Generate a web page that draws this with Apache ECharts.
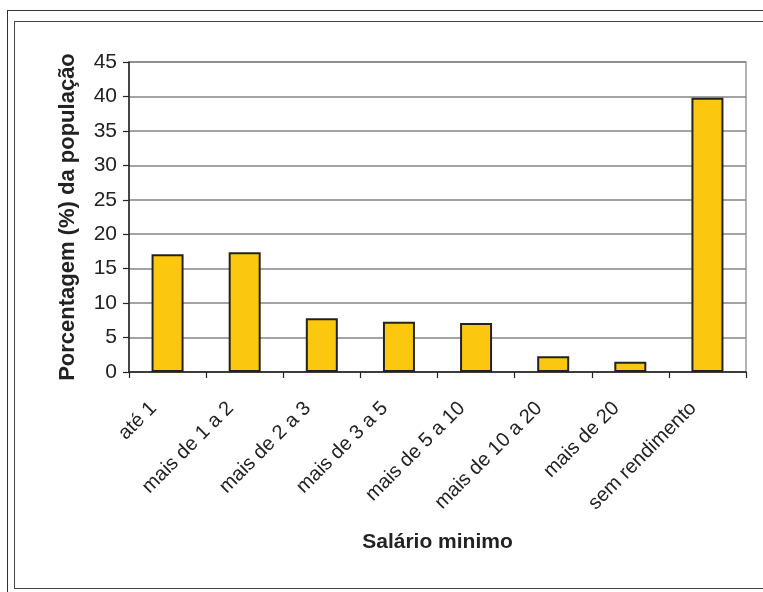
<!DOCTYPE html>
<html>
<head>
<meta charset="utf-8">
<script src="https://cdn.jsdelivr.net/npm/echarts@6/dist/echarts.min.js"></script>
<style>
html, body { margin: 0; padding: 0; background: #fff; }
#frame1 { position: absolute; left: 7px; top: 10px; width: 800px; height: 620px; border: 1.5px solid #333; box-sizing: border-box; }
#frame2 { position: absolute; left: 14px; top: 21px; width: 800px; height: 568px; border: 1.5px solid #444; box-sizing: border-box; }
#chart { position: absolute; left: 0; top: 0; width: 763px; height: 592px; }
</style>
</head>
<body>
<div id="frame1"></div>
<div id="frame2"></div>
<div id="chart"></div>
<script>
// faixas de salario minimo
const categories = ['até 1', 'mais de 1 a 2', 'mais de 2 a 3', 'mais de 3 a 5', 'mais de 5 a 10', 'mais de 10 a 20', 'mais de 20', 'sem rendimento']
const values = [17.1, 17.4, 7.8, 7.3, 7.1, 2.3, 1.5, 39.8]
const yTicks = { min: 0, max: 45, interval: 5 }

const myChart = echarts.init(document.getElementById('chart'))
myChart.setOption({
  animation: false,
  textStyle: { fontFamily: 'Liberation Sans, Arial, sans-serif' },
  grid: {
    left: 129,
    right: 17,
    top: 62,
    bottom: 220,
    show: true,
    borderColor: '#9a9a9a',
    borderWidth: 1.5
  },
  xAxis: {
    type: 'category',
    data: categories,
    name: 'Salário minimo',
    nameLocation: 'middle',
    nameGap: 160,
    nameTextStyle: { fontSize: 21, fontWeight: 'bold', color: '#222' },
    axisLine: { lineStyle: { color: '#222', width: 1.5 } },
    axisTick: { show: true, length: 6, lineStyle: { color: '#222', width: 1.2 } },
    axisLabel: { rotate: 45, fontSize: 20, color: '#222', margin: 19, padding: [0, 20, 0, 0], interval: 0 }
  },
  yAxis: {
    type: 'value',
    min: yTicks.min,
    max: yTicks.max,
    interval: yTicks.interval,
    name: 'Porcentagem (%) da população',
    nameLocation: 'middle',
    nameGap: 50,
    nameTextStyle: { fontSize: 22, fontWeight: 'bold', color: '#222' },
    axisLine: { show: true, lineStyle: { color: '#222', width: 1.5 } },
    axisTick: { show: true, length: 6, lineStyle: { color: '#222', width: 1.2 } },
    axisLabel: { fontSize: 21, color: '#222', margin: 12 },
    splitLine: { lineStyle: { color: '#858585', width: 1.5 } }
  },
  series: [
    {
      type: 'bar',
      data: values,
      barWidth: 32,
      itemStyle: { color: '#FCC80F', borderColor: '#222', borderWidth: 2 }
    }
  ]
})
</script>
</body>
</html>
